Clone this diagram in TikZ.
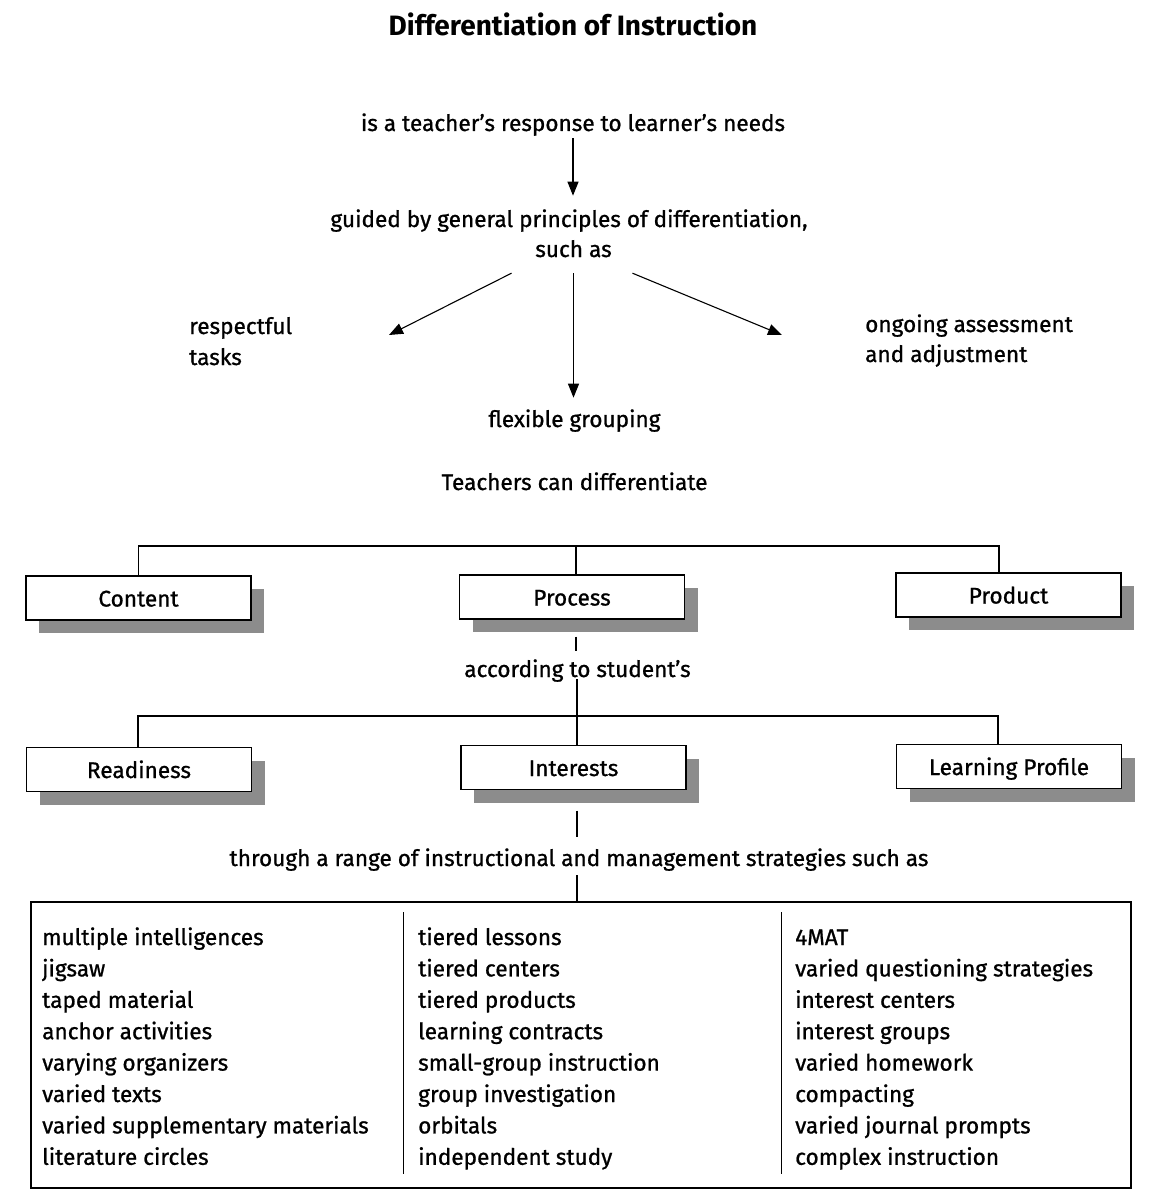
\documentclass[tikz,border=0pt]{standalone}
\usepackage{fontspec}
\setmainfont{Fira Sans}[UprightFeatures={FakeBold=0.9}]
\usetikzlibrary{arrows.meta,shadows,calc}
\definecolor{shadowgray}{RGB}{140,140,140}
\begin{document}
\begin{tikzpicture}[x=1pt,y=-1pt,
  lbl/.style={inner sep=0pt, text depth=0pt, anchor=base, font=\fontsize{22.6}{26}\selectfont},
  lbll/.style={lbl, anchor=base west},
  box/.style={draw, line width=1.2pt, fill=white, minimum width=225pt, minimum height=44pt,
    inner sep=0pt, text height=17pt, text depth=0pt, font=\fontsize{22.6}{26}\selectfont,
    drop shadow={shadow xshift=13pt, shadow yshift=-13pt, fill=shadowgray, opacity=1}},
  arr/.style={line width=1.1pt, -{Triangle[length=14pt,width=11pt]}},
  ln/.style={line width=1.2pt}
]
\useasboundingbox[fill=white] (0,0) rectangle (1151,1196);

% texts
\node[lbl, font=\bfseries\fontsize{28}{32}\selectfont] (title) at (573,36) {Differentiation of Instruction};
\node[lbl] (resp) at (573,131) {is a teacher's response to learner's needs};
\node[lbl] (guided) at (569,227) {guided by general principles of differentiation,};
\node[lbl] (such) at (573.5,257) {such as};
\node[lbll] (respect) at (189,334) {respectful};
\node[lbll] (tasks) at (189,365) {tasks};
\node[lbll] (ongoing) at (865,332) {ongoing assessment};
\node[lbll] (adjust) at (865,362) {and adjustment};
\node[lbl] (flex) at (574.5,427) {flexible grouping};
\node[lbl] (teach) at (574.5,490) {Teachers can differentiate};
\node[lbl] (accord) at (577.5,677) {according to student's};
\node[lbl] (through) at (579,866) {through a range of instructional and management strategies such as};

% boxes
\node[box] (content) at (138.5,598) {Content};
\node[box] (process) at (572,597) {Process};
\node[box] (product) at (1008.5,595) {Product};
\node[box] (readiness) at (139,769.5) {Readiness};
\node[box] (interests) at (573.5,767.5) {Interests};
\node[box] (lp) at (1009,766.5) {Learning Profile};

% arrows
\draw[arr] ([yshift=-7pt]resp.south) -- ([yshift=13.5pt]resp.south |- guided.north);
\draw[arr] ([yshift=-16pt]such.south) -- ([yshift=11.5pt]such.south |- flex.north);
\coordinate (tipL) at (389,335);
\coordinate (tipR) at (782,335);
\draw[arr] ([xshift=-62pt,yshift=-16pt]such.south) -- (tipL);
\draw[arr] ([xshift=59pt,yshift=-16pt]such.south) -- (tipR);

% tree 1
\coordinate (j1) at (576,546);
\draw[ln] (content.north) |- (j1) -| ([xshift=-9.5pt]product.north);
\draw[ln] (j1) -- (j1 |- process.north);
\draw[ln] ($(process.south)+(4,17)$) -- ($(accord.north)+(-1.5,-8.5)$);

% tree 2
\coordinate (j2) at (577,716);
\draw[ln] ($(accord.south)+(-0.5,2)$) -- (j2) -- (j2 |- interests.north);
\draw[ln] ([xshift=-1pt]readiness.north) |- (j2) -| ([xshift=-11pt]lp.north);
\draw[ln] ($(interests.south)+(3.5,20.5)$) -- ($(through.north)+(-2,-11.5)$);

% strategies box
\node[draw, line width=1.2pt, minimum width=1100pt, minimum height=286pt, inner sep=0pt] (strat) at (581,1045) {};
\draw[ln] ($(through.south)+(-2,9)$) -- ([xshift=-4pt]strat.north);
\draw[ln] ($(strat.north west)+(373,11)$) -- ($(strat.south west)+(373,-15)$);
\draw[ln] ($(strat.north west)+(751,11)$) -- ($(strat.south west)+(751,-15)$);

\foreach \t [count=\i] in {multiple intelligences, jigsaw, taped material, anchor activities, varying organizers, varied texts, varied supplementary materials, literature circles}
  \node[lbll] (a\i) at (42,{945+31.4*(\i-1)}) {\t};
\foreach \t [count=\i] in {tiered lessons, tiered centers, tiered products, learning contracts, small-group instruction, group investigation, orbitals, independent study}
  \node[lbll] (b\i) at (418,{945+31.4*(\i-1)}) {\t};
\foreach \t [count=\i] in {4MAT, varied questioning strategies, interest centers, interest groups, varied homework, compacting, varied journal prompts, complex instruction}
  \node[lbll] (c\i) at (795,{945+31.4*(\i-1)}) {\t};
\end{tikzpicture}
\end{document}
